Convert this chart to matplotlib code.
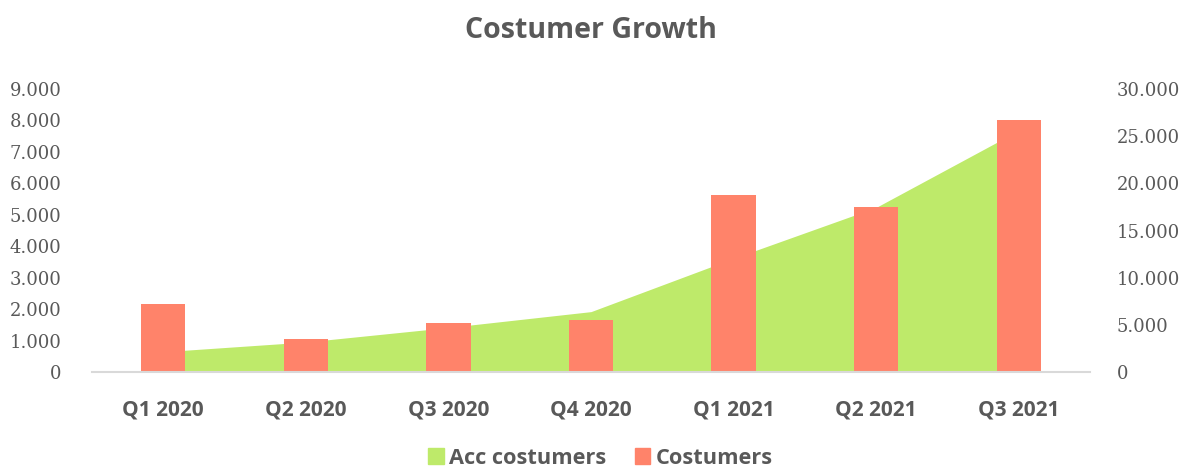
import matplotlib
matplotlib.use("Agg")
import matplotlib.pyplot as plt
from matplotlib.patches import Patch
import numpy as np

# ---- data ----
quarters = ['Q1 2020', 'Q2 2020', 'Q3 2020', 'Q4 2020', 'Q1 2021', 'Q2 2021', 'Q3 2021']
costumers = [2170, 1040, 1570, 1650, 5630, 5250, 8015]
acc_costumers = [2150, 3180, 4720, 6400, 12050, 17450, 25600]
left_ticks = [0, 1000, 2000, 3000, 4000, 5000, 6000, 7000, 8000, 9000]
right_ticks = [0, 5000, 10000, 15000, 20000, 25000, 30000]

grey = '#595959'
bar_color = '#FF836A'
area_color = '#BEEA6A'

fig = plt.figure(figsize=(11.81, 4.72), dpi=100)
ax = fig.add_axes([92 / 1181, 1 - 372 / 472, 998 / 1181, 283 / 472])
ax2 = ax.twinx()

x = np.arange(len(quarters))

# area (right axis) behind bars
ax2.fill_between(x, 0, acc_costumers, color=area_color, linewidth=0)
ax2.set_ylim(0, 30000)
ax2.set_yticks(right_ticks)
ax2.set_yticklabels([f'{v:,}'.replace(',', '.') for v in right_ticks])

# bars (left axis)
ax.bar(x, costumers, width=0.31, color=bar_color, linewidth=0)
ax.set_ylim(0, 9000)
ax.set_yticks(left_ticks)
ax.set_yticklabels([f'{v:,}'.replace(',', '.') for v in left_ticks])
ax.set_xlim(-0.5, len(quarters) - 0.5)
ax.set_xticks(x)
ax.set_xticklabels(quarters)

ax.set_zorder(ax2.get_zorder() + 1)
ax.patch.set_visible(False)

for a in (ax, ax2):
    for s in a.spines.values():
        s.set_visible(False)
ax.spines['bottom'].set_visible(True)
ax.spines['bottom'].set_color('#D9D9D9')
ax.spines['bottom'].set_linewidth(1.5)

ax.tick_params(axis='y', length=0, pad=22, labelcolor=grey, labelsize=13)
ax2.tick_params(axis='y', length=0, pad=19, labelcolor=grey, labelsize=13)
for lbl in ax.get_yticklabels() + ax2.get_yticklabels():
    lbl.set_family('DejaVu Serif')
ax.tick_params(axis='x', length=0, pad=20, labelcolor=grey, labelsize=15)
for lbl in ax.get_xticklabels():
    lbl.set_family('Open Sans')
    lbl.set_fontweight('bold')

fig.text(0.5, 1 - 31 / 472, 'Costumer Growth', ha='center', va='center',
         fontsize=20.5, fontweight='bold', color=grey, family='Open Sans')

handles = [Patch(color=area_color, label='Acc costumers'),
           Patch(color=bar_color, label='Costumers')]
fig.legend(handles=handles, loc='center', bbox_to_anchor=(0.5085, 1 - 458 / 472),
           ncol=2, frameon=False, handlelength=0.7, handleheight=0.7,
           columnspacing=1.3, handletextpad=0.25,
           prop={'family': 'Open Sans', 'weight': 'bold', 'size': 15.7},
           labelcolor=grey)

fig.savefig('out.png', dpi=100)
